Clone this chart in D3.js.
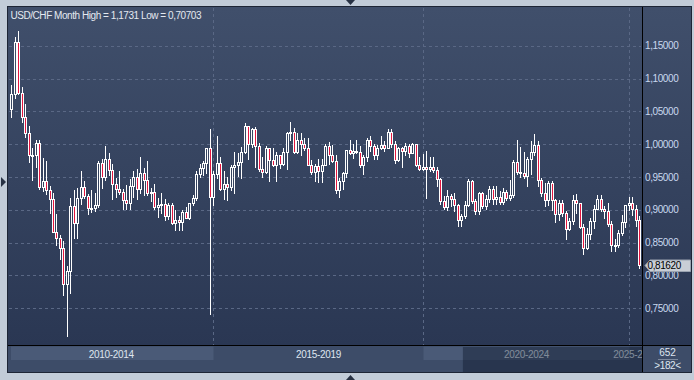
<!DOCTYPE html>
<html>
<head>
<meta charset="utf-8">
<script src="https://cdn.jsdelivr.net/npm/d3@7"></script>
<style>
  html, body { margin: 0; padding: 0; background: #c2ccd8; }
  svg { display: block; font-family: "Liberation Sans", Arial, sans-serif; }
</style>
</head>
<body>
<div id="chart"></div>
<script>
// USD/CHF monthly candles, Apr 2010 .. Apr 2025
const firstMonth = "2010-04";

const open = [
  1.0537, 1.0766, 1.1557, 1.0780, 1.0420, 1.0165, 0.9836, 0.9841, 1.0015,                  // 2010
  0.9350, 0.9433, 0.9307, 0.9173, 0.8663, 0.8573, 0.8412, 0.7866, 0.8068, 0.9057, 0.8800, 0.9183, // 2011
  0.9349, 0.9212, 0.9022, 0.9024, 0.9077, 0.9720, 0.9499, 0.9777, 0.9606, 0.9401, 0.9322, 0.9279, // 2012
  0.9150, 0.9103, 0.9360, 0.9497, 0.9313, 0.9568, 0.9449, 0.9259, 0.9279, 0.9047, 0.9080, 0.9088, // 2013
  0.8901, 0.9071, 0.8800, 0.8847, 0.8812, 0.8961, 0.8871, 0.9106, 0.9174, 0.9552, 0.9633, 0.9719, // 2014
  0.9940, 0.9195, 0.9541, 0.9719, 0.9323, 0.9398, 0.9354, 0.9660, 0.9686, 0.9735, 0.9885, 1.0275, // 2015
  1.0009, 1.0230, 0.9975, 0.9617, 0.9574, 0.9946, 0.9760, 0.9690, 0.9830, 0.9700, 0.9885, 1.0170, // 2016
  1.0180, 0.9890, 1.0060, 1.0010, 0.9950, 0.9690, 0.9580, 0.9670, 0.9590, 0.9680, 0.9980, 0.9830, // 2017
  0.9740, 0.9310, 0.9440, 0.9560, 0.9910, 0.9860, 0.9900, 0.9890, 0.9690, 0.9810, 1.0070, 0.9970, // 2018
  0.9830, 0.9950, 0.9990, 0.9950, 1.0190, 1.0010, 0.9760, 0.9950, 0.9900, 0.9970, 0.9860, 1.0000, // 2019
  0.9680, 0.9630, 0.9650, 0.9630, 0.9650, 0.9610, 0.9470, 0.9130, 0.9040, 0.9210, 0.9170, 0.9080, // 2020
  0.8850, 0.8900, 0.9070, 0.9440, 0.9130, 0.8990, 0.9250, 0.9060, 0.9160, 0.9320, 0.9160, 0.9200, // 2021
  0.9120, 0.9280, 0.9180, 0.9230, 0.9730, 0.9580, 0.9560, 0.9510, 0.9780, 0.9880, 0.9990, 0.9460, // 2022
  0.9250, 0.9150, 0.9410, 0.9150, 0.8940, 0.9110, 0.8950, 0.8710, 0.8830, 0.9150, 0.9100, 0.8740, // 2023
  0.8415, 0.8635, 0.8830, 0.9020, 0.9170, 0.9020, 0.8990, 0.8780, 0.8470, 0.8460, 0.8650, 0.8810, // 2024
  0.9070, 0.9110, 0.9020, 0.8840                                                              // 2025
];
const high = [
  1.0900, 1.1643, 1.1731, 1.0870, 1.0620, 1.0280, 0.9940, 1.0067, 1.0070,
  0.9785, 0.9740, 0.9360, 0.9250, 0.8930, 0.8610, 0.8520, 0.8140, 0.9180, 0.9300, 0.9340, 0.9596,
  0.9440, 0.9240, 0.9310, 0.9260, 0.9740, 0.9770, 0.9970, 0.9870, 0.9700, 0.9480, 0.9600, 0.9320,
  0.9380, 0.9470, 0.9600, 0.9620, 0.9800, 0.9640, 0.9750, 0.9340, 0.9400, 0.9180, 0.9250, 0.9160,
  0.9110, 0.9100, 0.9000, 0.8900, 0.9000, 0.9050, 0.9110, 0.9230, 0.9590, 0.9700, 0.9745, 0.9950,
  1.0240, 0.9590, 1.0130, 0.9800, 0.9590, 0.9500, 0.9690, 0.9890, 0.9860, 0.9960, 1.0330, 1.0280,
  1.0250, 1.0257, 1.0020, 0.9800, 0.9970, 0.9950, 0.9950, 0.9890, 0.9840, 0.9950, 1.0190, 1.0340,
  1.0250, 1.0170, 1.0170, 1.0100, 1.0100, 0.9760, 0.9700, 0.9770, 0.9780, 1.0000, 1.0040, 0.9990,
  0.9830, 0.9480, 0.9580, 0.9920, 1.0060, 1.0000, 1.0070, 0.9970, 0.9830, 1.0100, 1.0130, 1.0000,
  0.9990, 1.0120, 1.0050, 1.0240, 1.0240, 1.0050, 0.9960, 0.9960, 1.0020, 1.0000, 1.0020, 1.0000,
  0.9800, 0.9850, 0.9900, 0.9800, 0.9800, 0.9650, 0.9480, 0.9210, 0.9300, 0.9240, 0.9250, 0.9090,
  0.8930, 0.9130, 0.9470, 0.9450, 0.9160, 0.9270, 0.9270, 0.9230, 0.9370, 0.9370, 0.9370, 0.9290,
  0.9340, 0.9300, 0.9450, 0.9760, 1.0060, 0.9960, 0.9890, 0.9810, 1.0050, 1.0150, 1.0050, 0.9480,
  0.9410, 0.9440, 0.9440, 0.9160, 0.9150, 0.9150, 0.8990, 0.8880, 0.9220, 0.9240, 0.9110, 0.8780,
  0.8730, 0.8880, 0.9070, 0.9220, 0.9220, 0.9060, 0.9100, 0.8830, 0.8560, 0.8690, 0.8920, 0.9080,
  0.9200, 0.9190, 0.9080, 0.8900
];
const low = [
  1.0420, 1.0700, 1.0760, 1.0340, 1.0110, 0.9737, 0.9460, 0.9650, 0.9320,
  0.9290, 0.9240, 0.8950, 0.8660, 0.8472, 0.8250, 0.7710, 0.70703, 0.7740, 0.8570, 0.8570, 0.9090,
  0.9180, 0.8930, 0.8970, 0.8990, 0.9050, 0.9340, 0.9450, 0.9530, 0.9170, 0.9200, 0.9240, 0.9020,
  0.9020, 0.9020, 0.9200, 0.9160, 0.9250, 0.9220, 0.9230, 0.9130, 0.9020, 0.8890, 0.8960, 0.8840,
  0.8860, 0.8780, 0.8700, 0.8700, 0.8700, 0.8870, 0.8860, 0.9075, 0.9150, 0.9500, 0.9530, 0.9560,
  0.7410, 0.9070, 0.9490, 0.9300, 0.9170, 0.9150, 0.9310, 0.9260, 0.9520, 0.9480, 0.9860, 0.9780,
  0.9960, 0.9660, 0.9590, 0.9500, 0.9560, 0.9440, 0.9670, 0.9440, 0.9640, 0.9690, 0.9630, 1.0070,
  0.9860, 0.9860, 0.9840, 0.9920, 0.9680, 0.9550, 0.9440, 0.9420, 0.9420, 0.9680, 0.9700, 0.9730,
  0.9250, 0.9190, 0.9320, 0.9500, 0.9850, 0.9790, 0.9870, 0.9660, 0.9540, 0.9750, 0.9900, 0.9780,
  0.9770, 0.9930, 0.9900, 0.9950, 0.9960, 0.9710, 0.9750, 0.9660, 0.9840, 0.9810, 0.9860, 0.9670,
  0.9610, 0.9610, 0.9180, 0.9590, 0.9580, 0.9370, 0.9090, 0.9010, 0.9000, 0.9060, 0.8990, 0.8760,
  0.8760, 0.8870, 0.9060, 0.9110, 0.8930, 0.8930, 0.9030, 0.9020, 0.9120, 0.9090, 0.9090, 0.9090,
  0.9090, 0.9150, 0.9150, 0.9200, 0.9540, 0.9500, 0.9490, 0.9370, 0.9550, 0.9840, 0.9360, 0.9210,
  0.9060, 0.9070, 0.9000, 0.8820, 0.8850, 0.8900, 0.8550, 0.8700, 0.8780, 0.8960, 0.8730, 0.8330,
  0.8410, 0.8550, 0.8720, 0.9010, 0.8990, 0.8880, 0.8760, 0.8370, 0.8375, 0.8430, 0.8620, 0.8740,
  0.9000, 0.8920, 0.8760, 0.8110
];
const close = [
  1.0766, 1.1557, 1.0780, 1.0420, 1.0165, 0.9836, 0.9841, 1.0015, 0.9350,
  0.9433, 0.9307, 0.9173, 0.8663, 0.8573, 0.8412, 0.7866, 0.8068, 0.9057, 0.8800, 0.9183, 0.9349,
  0.9212, 0.9022, 0.9024, 0.9077, 0.9720, 0.9499, 0.9777, 0.9606, 0.9401, 0.9322, 0.9279, 0.9150,
  0.9103, 0.9360, 0.9497, 0.9313, 0.9568, 0.9449, 0.9259, 0.9279, 0.9047, 0.9080, 0.9088, 0.8901,
  0.9071, 0.8800, 0.8847, 0.8812, 0.8961, 0.8871, 0.9106, 0.9174, 0.9552, 0.9633, 0.9719, 0.9940,
  0.9195, 0.9541, 0.9719, 0.9323, 0.9398, 0.9354, 0.9660, 0.9686, 0.9735, 0.9885, 1.0275, 1.0009,
  1.0230, 0.9975, 0.9617, 0.9574, 0.9946, 0.9760, 0.9690, 0.9830, 0.9700, 0.9885, 1.0170, 1.0180,
  0.9890, 1.0060, 1.0010, 0.9950, 0.9690, 0.9580, 0.9670, 0.9590, 0.9680, 0.9980, 0.9830, 0.9740,
  0.9310, 0.9440, 0.9560, 0.9910, 0.9860, 0.9900, 0.9890, 0.9690, 0.9810, 1.0070, 0.9970, 0.9830,
  0.9950, 0.9990, 0.9950, 1.0190, 1.0010, 0.9760, 0.9950, 0.9900, 0.9970, 0.9860, 1.0000, 0.9680,
  0.9630, 0.9650, 0.9630, 0.9650, 0.9610, 0.9470, 0.9130, 0.9040, 0.9210, 0.9170, 0.9080, 0.8850,
  0.8900, 0.9070, 0.9440, 0.9130, 0.8990, 0.9250, 0.9060, 0.9160, 0.9320, 0.9160, 0.9200, 0.9120,
  0.9280, 0.9180, 0.9230, 0.9730, 0.9580, 0.9560, 0.9510, 0.9780, 0.9880, 0.9990, 0.9460, 0.9250,
  0.9150, 0.9410, 0.9150, 0.8940, 0.9110, 0.8950, 0.8710, 0.8830, 0.9150, 0.9100, 0.8740, 0.8415,
  0.8635, 0.8830, 0.9020, 0.9170, 0.9020, 0.8990, 0.8780, 0.8470, 0.8460, 0.8650, 0.8810, 0.9070,
  0.9110, 0.9020, 0.8840, 0.8162
];

const yTicks = [0.75, 0.80, 0.85, 0.90, 0.95, 1.00, 1.05, 1.10, 1.15];

// period strip under the chart
const periods = ["2010-2014", "2015-2019", "2020-2024", "2025-2029"];
const periodStarts = ["2010-04", "2015-02", "2020-02", "2025-01"];
const periodLit = [true, false, true, false];
const navFrom = "2021-02";
const barsTotal = 652, barsShown = 182;

const width = 694, height = 380;
const plotL = 9, plotR = 642, plotT = 8, plotB = 345, stripB = 372, panelR = 691;

const parseM = d3.timeParse("%Y-%m"), fmtM = d3.timeFormat("%Y-%m");
const start = parseM(firstMonth);
const months = d3.timeMonth.range(start, d3.timeMonth.offset(start, close.length)).map(fmtM);
const data = months.map((m, i) => ({ m, o: open[i], h: high[i], l: low[i], c: close[i] }));

const x = d3.scaleBand().domain(months).range([9.4, 640.8]);
const y = d3.scaleLinear().domain([0.70, 1.20]).range([341.1, 13.1]);
const num = f => v => d3.format(f)(v).replace(".", ",");
const fmtTick = num(".5f");
const fmtHL = num(".5~f");
const cx = m => Math.round(x(m) + x.bandwidth() / 2);

const svg = d3.select("#chart").append("svg")
    .attr("width", width)
    .attr("height", height);

const defs = svg.append("defs");
const grad = defs.append("linearGradient")
    .attr("id", "bg")
    .attr("gradientUnits", "userSpaceOnUse")
    .attr("x1", 0).attr("y1", plotT).attr("x2", 0).attr("y2", plotB);
grad.append("stop").attr("offset", 0).attr("stop-color", "#404f6b");
grad.append("stop").attr("offset", 1).attr("stop-color", "#2a3753");
defs.append("clipPath").attr("id", "plotClip")
    .append("rect").attr("x", plotL).attr("y", plotT).attr("width", plotR - plotL).attr("height", plotB - plotT);
defs.append("clipPath").attr("id", "stripClip")
    .append("rect").attr("x", plotL).attr("y", plotB).attr("width", plotR - plotL).attr("height", stripB - plotB);

// panel background
svg.append("rect").attr("x", 8).attr("y", 7).attr("width", panelR - 8).attr("height", plotB - 7)
    .attr("fill", "url(#bg)");
svg.append("rect").attr("x", 8).attr("y", plotB).attr("width", panelR - 8).attr("height", stripB - plotB)
    .attr("fill", "#3d4c68");

// grid
svg.append("g").selectAll("line")
    .data(yTicks)
    .enter().append("line")
    .attr("x1", plotL).attr("x2", plotR - 1)
    .attr("y1", d => Math.round(y(d)) + 0.5)
    .attr("y2", d => Math.round(y(d)) + 0.5)
    .attr("stroke", "#5a6885")
    .attr("stroke-dasharray", "3,3");

svg.append("g").selectAll("line")
    .data(periodStarts.slice(1))
    .enter().append("line")
    .attr("x1", d => cx(d) + 0.5).attr("x2", d => cx(d) + 0.5)
    .attr("y1", plotT).attr("y2", plotB)
    .attr("stroke", "#5a6885")
    .attr("stroke-dasharray", "3,3");

// candles
const candles = svg.append("g").attr("clip-path", "url(#plotClip)")
    .selectAll("g")
    .data(data)
    .enter().append("g");

candles.append("line")
    .attr("x1", d => cx(d.m) + 0.5).attr("x2", d => cx(d.m) + 0.5)
    .attr("y1", d => Math.round(y(d.h)))
    .attr("y2", d => Math.round(y(d.l)) + 1)
    .attr("stroke", "#ffffff");

candles.append("rect")
    .attr("x", d => cx(d.m) - 0.5)
    .attr("width", 2)
    .attr("y", d => Math.round(y(Math.max(d.o, d.c))) + 0.5)
    .attr("height", d => Math.max(1, Math.round(y(Math.min(d.o, d.c))) - Math.round(y(Math.max(d.o, d.c)))))
    .attr("fill", d => d.c < d.o ? "#e3163f" : "url(#bg)")
    .attr("stroke", "#ffffff");

// period strip
const bounds = periodStarts.map((m, i) => i === 0 ? plotL : cx(m) + 0.5);
const segs = periods.map((p, i) => ({ p, lit: periodLit[i], x0: bounds[i], x1: i + 1 < bounds.length ? bounds[i + 1] : plotR }));

const strip = svg.append("g").attr("clip-path", "url(#stripClip)");
strip.selectAll("rect.lit")
    .data(segs.filter(d => d.lit))
    .enter().append("rect")
    .attr("class", "lit")
    .attr("x", d => Math.max(d.x0, plotL + 2))
    .attr("width", d => d.x1 - Math.max(d.x0, plotL + 2))
    .attr("y", plotB + 1.5).attr("height", 13.5)
    .attr("fill", "#4a5a77");

strip.selectAll("text")
    .data(segs)
    .enter().append("text")
    .attr("x", d => (d.x0 + d.x1) / 2)
    .attr("y", 354)
    .attr("dy", "0.35em")
    .attr("text-anchor", "middle")
    .attr("fill", "#dfe6f0")
    .style("font-size", "10px")
    .style("letter-spacing", "-0.3px")
    .text(d => d.p);

strip.append("rect")
    .attr("x", x(navFrom))
    .attr("width", plotR - x(navFrom))
    .attr("y", plotB + 2).attr("height", stripB - plotB - 2)
    .attr("fill", "#101a2e").attr("opacity", 0.45);

// separators
svg.append("line").attr("x1", 8).attr("x2", panelR).attr("y1", plotB + 0.5).attr("y2", plotB + 0.5)
    .attr("stroke", "#000");
svg.append("line").attr("x1", plotR + 0.5).attr("x2", plotR + 0.5).attr("y1", 7).attr("y2", stripB)
    .attr("stroke", "#000");

// price axis
svg.append("g").selectAll("text")
    .data(yTicks)
    .enter().append("text")
    .attr("x", 645)
    .attr("y", d => y(d))
    .attr("dy", "0.35em")
    .attr("fill", "#c9d8ef")
    .style("font-size", "10px")
    .style("letter-spacing", "-0.4px")
    .text(fmtTick);

// last price tag
const last = close[close.length - 1];
const ly = Math.round(y(last)) + 0.5;
svg.append("path")
    .attr("d", `M${plotR + 3},${ly} L${plotR + 8},${ly - 5.5} L${panelR - 0.5},${ly - 5.5} L${panelR - 0.5},${ly + 6} L${plotR + 8},${ly + 6} Z`)
    .attr("fill", "#c9ced6")
    .attr("stroke", "#9aa3b1");
svg.append("text")
    .attr("x", 647.5).attr("y", ly)
    .attr("dy", "0.35em")
    .attr("fill", "#000")
    .style("font-size", "10px")
    .style("letter-spacing", "-0.4px")
    .text(fmtTick(last));

// bar counters
svg.append("text").attr("x", 667.5).attr("y", 352.5).attr("dy", "0.35em")
    .attr("text-anchor", "middle").attr("fill", "#dfe6f0").style("font-size", "10px")
    .text(barsTotal);
svg.append("line").attr("x1", 658).attr("x2", 678).attr("y1", 359.5).attr("y2", 359.5)
    .attr("stroke", "#7d899e");
svg.append("text").attr("x", 667.5).attr("y", 365.5).attr("dy", "0.35em")
    .attr("text-anchor", "middle").attr("fill", "#dfe6f0").style("font-size", "10px")
    .style("letter-spacing", "-0.4px")
    .text(`>${barsShown}<`);

// title
svg.append("text")
    .attr("x", 10.5).attr("y", 15)
    .attr("dy", "0.35em")
    .attr("fill", "#e4e9f0")
    .style("font-size", "10px")
    .style("letter-spacing", "-0.45px")
    .text(`USD/CHF Month High = ${fmtHL(d3.max(high))} Low = ${fmtHL(d3.min(low))}`);

// frame and little arrows
svg.append("rect").attr("x", 7.5).attr("y", 6.5).attr("width", panelR - 7).attr("height", stripB - 6)
    .attr("fill", "none").attr("stroke", "#1d2535");
svg.append("path").attr("d", "M346,0 L355,0 L350.5,5 Z").attr("fill", "#283244");
svg.append("path").attr("d", "M346,380 L355,380 L350.5,375 Z").attr("fill", "#283244");
svg.append("path").attr("d", "M1,177 L1,187 L6,182 Z").attr("fill", "#283244");
</script>
</body>
</html>
